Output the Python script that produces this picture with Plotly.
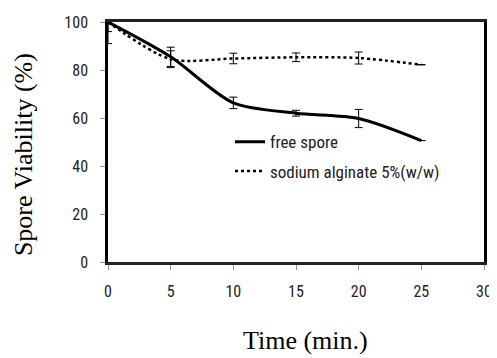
import plotly.graph_objects as go

time = [0, 5, 10, 15, 20, 25]
free_spore = [100, 85.5, 66.3, 62.0, 59.8, 50.6]
free_err = [4, 4, 2.4, 1.2, 3.8, 0]
alginate = [100, 84.5, 84.8, 85.3, 85.0, 82.2]
alginate_err = [9, 3.5, 2.2, 1.8, 2.5, 0]

x_ticks = [0, 5, 10, 15, 20, 25, 30]
y_ticks = [0, 20, 40, 60, 80, 100]

narrow = "Liberation Sans Narrow, Roboto Condensed, Arial Narrow, Liberation Sans"
tick_font = dict(family=narrow, size=16, color="#222")
legend_font = dict(family=narrow, size=17, color="#222")
title_font = dict(family="Liberation Serif, Times New Roman, serif", size=26, color="black")

fig = go.Figure()
fig.add_trace(go.Scatter(
    x=time, y=free_spore, mode="lines", name="free spore",
    line=dict(color="black", width=3, shape="spline", smoothing=0.8),
    error_y=dict(type="data", array=free_err, visible=True, color="black", thickness=1, width=4),
    legendgroup="a",
))
fig.add_trace(go.Scatter(
    x=time, y=alginate, mode="lines", name="sodium alginate 5%(w/w)",
    line=dict(color="black", width=2.5, dash="dot", shape="spline", smoothing=0.8),
    error_y=dict(type="data", array=alginate_err, visible=True, color="black", thickness=1, width=4),
    legendgroup="b",
))

# plot-area edges in page pixels of the reference
px0, px1, py0, py1 = 108, 484, 262, 15
def xp(px):
    return (px - px0) / (px1 - px0)
def yp(py):
    return (py0 - py) / (py0 - py1)

# page body has an 8px margin, so the figure is offset by 8px
fig.update_layout(
    width=489, height=350,
    margin=dict(l=100, r=5, t=7, b=96),
    plot_bgcolor="white", paper_bgcolor="white",
    showlegend=True,
    legend=dict(x=xp(230), y=0.574, xanchor="left", yanchor="top", font=legend_font,
                bgcolor="rgba(0,0,0,0)", tracegroupgap=4),
    xaxis=dict(range=[0, 30], tickvals=x_ticks, showgrid=False, zeroline=False,
               showline=True, linecolor="#222", linewidth=2.5, mirror=True,
               ticks="outside", ticklen=5, tickcolor="#999", tickfont=tick_font,
               ticklabelstandoff=8, ticklabeloverflow="allow"),
    yaxis=dict(range=[0, 100], tickvals=y_ticks, showgrid=False, zeroline=False,
               showline=True, linecolor="black", linewidth=2.5, mirror=True,
               ticks="outside", ticklen=5, tickcolor="#999", tickfont=tick_font,
               ticklabelstandoff=9, ticklabeloverflow="allow"),
    annotations=[
        dict(text="Time (min.)", x=xp(305), y=yp(343), xref="paper", yref="paper",
             xanchor="center", yanchor="middle", showarrow=False, font=title_font),
        dict(text="Spore Viability (%)", x=xp(23), y=yp(152), xref="paper", yref="paper",
             xanchor="center", yanchor="middle", showarrow=False, font=title_font,
             textangle=-90),
    ],
)

fig.write_html("out.html")
